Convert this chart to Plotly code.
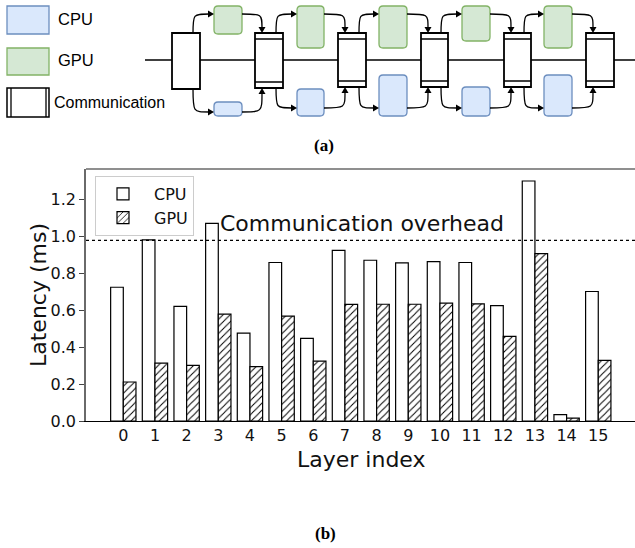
import plotly.graph_objects as go

# ---------------- data ----------------
layers = list(range(16))
tick_labels = [str(i) for i in layers]
cpu_latency = [0.724, 0.980, 0.620, 1.070, 0.476, 0.858, 0.447, 0.924,
               0.870, 0.856, 0.863, 0.858, 0.625, 1.299, 0.034, 0.701]
gpu_latency = [0.211, 0.313, 0.301, 0.578, 0.294, 0.568, 0.324, 0.631,
               0.632, 0.632, 0.638, 0.634, 0.458, 0.906, 0.016, 0.328]
comm_overhead = 0.978
ytick_vals = [0.0, 0.2, 0.4, 0.6, 0.8, 1.0, 1.2]
ytick_text = ["0.0", "0.2", "0.4", "0.6", "0.8", "1.0", "1.2"]

W, H = 635, 548

def px(x):
    return x / W

def py(y):
    return 1 - y / H

def pt(x, y):
    return f"{px(x):.5f},{py(y):.5f}"

def rect_path(x0, y0, x1, y1, r=0):
    if r == 0:
        return f"M{pt(x0,y0)} L{pt(x1,y0)} L{pt(x1,y1)} L{pt(x0,y1)} Z"
    return (f"M{pt(x0+r,y0)} L{pt(x1-r,y0)} Q{pt(x1,y0)} {pt(x1,y0+r)} "
            f"L{pt(x1,y1-r)} Q{pt(x1,y1)} {pt(x1-r,y1)} L{pt(x0+r,y1)} "
            f"Q{pt(x0,y1)} {pt(x0,y1-r)} L{pt(x0,y0+r)} Q{pt(x0,y0)} {pt(x0+r,y0)} Z")

shapes = []

def add_path(path, color="black", width=1.3, fill="rgba(0,0,0,0)"):
    shapes.append(dict(type="path", xref="paper", yref="paper", path=path,
                       line=dict(color=color, width=width), fillcolor=fill, layer="above"))

def add_line(x0, y0, x1, y1, color="black", width=1.5, dash="solid"):
    shapes.append(dict(type="line", xref="paper", yref="paper",
                       x0=px(x0), y0=py(y0), x1=px(x1), y1=py(y1),
                       line=dict(color=color, width=width, dash=dash), layer="above"))

def arrowhead(x, y, direction, L=6, hw=3.5):
    if direction == "right":
        p = f"M{pt(x,y)} L{pt(x-L,y-hw)} L{pt(x-L,y+hw)} Z"
    elif direction == "down":
        p = f"M{pt(x,y)} L{pt(x-hw,y-L)} L{pt(x+hw,y-L)} Z"
    else:  # up
        p = f"M{pt(x,y)} L{pt(x-hw,y+L)} L{pt(x+hw,y+L)} Z"
    shapes.append(dict(type="path", xref="paper", yref="paper", path=p,
                       line=dict(width=0), fillcolor="black", layer="above"))

BLUE_F, BLUE_L = "#dae8fc", "#6c8ebf"
GREEN_F, GREEN_L = "#d5e8d4", "#82b366"

# ---------------- diagram (a) ----------------
add_line(145, 60, 635, 60, width=1.5)

first_box = (172, 33, 200, 89)
comm_boxes = [(255, 33, 283, 88), (338, 33, 366, 87), (421, 33, 448, 87),
              (504, 33, 531, 87), (586, 33, 614, 87)]
green_boxes = [(214, 6, 242, 34), (297, 6, 324, 48), (379, 6, 407, 48),
               (462, 6, 490, 41), (544, 6, 572, 48)]
blue_boxes = [(214, 102, 242, 116), (297, 89, 324, 116), (379, 75, 407, 116),
              (462, 87, 490, 116), (544, 75, 572, 116)]

add_path(rect_path(*first_box), width=1.8, fill="white")
for (x0, y0, x1, y1) in comm_boxes:
    add_path(rect_path(x0, y0, x1, y1), width=1.8, fill="white")
    add_line(x0, y0 + 6, x1, y0 + 6, width=1.5)
    add_line(x0, y1 - 6, x1, y1 - 6, width=1.5)
for b in green_boxes:
    add_path(rect_path(*b, r=4), color=GREEN_L, width=1.3, fill=GREEN_F)
for b in blue_boxes:
    add_path(rect_path(*b, r=4), color=BLUE_L, width=1.3, fill=BLUE_F)

top_y = 14
for k in range(5):
    src = first_box if k == 0 else comm_boxes[k - 1]
    tgt = comm_boxes[k]
    g = green_boxes[k]
    b = blue_boxes[k]
    sx = src[2] - 7
    tx = tgt[0] + 7
    by = 112 if k == 0 else 108
    add_path(f"M{pt(sx,src[1])} C{pt(sx,top_y)} {pt(sx,top_y)} {pt(g[0]-5,top_y)}")
    arrowhead(g[0], top_y, "right")
    add_path(f"M{pt(g[2],top_y)} C{pt(tx,top_y)} {pt(tx,top_y)} {pt(tx,tgt[1]-5)}")
    arrowhead(tx, tgt[1], "down")
    add_path(f"M{pt(sx,src[3])} C{pt(sx,by)} {pt(sx,by)} {pt(b[0]-5,by)}")
    arrowhead(b[0], by, "right")
    add_path(f"M{pt(b[2],by)} C{pt(tx,by)} {pt(tx,by)} {pt(tx,tgt[3]+5)}")
    arrowhead(tx, tgt[3], "up")

# diagram legend
add_path(rect_path(7, 6, 49, 34), color=BLUE_L, width=1.3, fill=BLUE_F)
add_path(rect_path(7, 48, 49, 75), color=GREEN_L, width=1.3, fill=GREEN_F)
add_path(rect_path(7, 88, 49, 117), width=1.5, fill="white")
add_line(11, 88, 11, 117, width=1.3)
add_line(46, 88, 46, 117, width=1.3)

annotations = []

def add_text(x, y, text, size, family="Liberation Sans", anchor="left", color="black", angle=0, bold=False):
    annotations.append(dict(xref="paper", yref="paper", x=px(x), y=py(y), text=(f"<b>{text}</b>" if bold else text),
                            showarrow=False, xanchor=anchor, yanchor="middle", textangle=angle,
                            font=dict(family=family, size=size, color=color)))

add_text(56, 19, "CPU", 16.5)
add_text(56, 60, "GPU", 16.5)
add_text(52, 102, "Communication", 16)
add_text(324, 145, "(a)", 17, family="Liberation Serif", anchor="center", bold=True)
add_text(325, 533, "(b)", 17, family="Liberation Serif", anchor="center", bold=True)

# ---------------- bar chart (b) ----------------
add_line(86, 169, 635, 169, color="#6a6a6a", width=1.5)  # top spine
add_text(38, 295, "Latency (ms)", 22, family="DejaVu Sans", anchor="center", angle=-90, color="#111")
add_text(361, 459, "Layer index", 22, family="DejaVu Sans", anchor="center", color="#111")
add_text(218, 223, "Communication overhead", 22, family="DejaVu Sans", color="#111")

fig = go.Figure()
fig.add_trace(go.Bar(
    x=layers, y=cpu_latency, name="CPU", width=0.4, offset=-0.4,
    marker=dict(color="white", line=dict(color="black", width=1.2)),
))
fig.add_trace(go.Bar(
    x=layers, y=gpu_latency, name="GPU", width=0.4, offset=0.0,
    marker=dict(color="white", line=dict(color="black", width=1.2),
                pattern=dict(shape="/", fgcolor="black", bgcolor="white", size=5, solidity=0.2)),
))
fig.add_trace(go.Scatter(
    x=[-1.178, 16.16], y=[comm_overhead, comm_overhead], mode="lines",
    line=dict(color="black", width=1.2, dash="dot"), showlegend=False, hoverinfo="skip",
))

fig.update_layout(
    template="none",
    width=W, height=H,
    margin=dict(l=0, r=0, t=0, b=0, pad=0),
    paper_bgcolor="white", plot_bgcolor="rgba(0,0,0,0)",
    barmode="overlay",
    shapes=shapes,
    annotations=annotations,
    font=dict(family="DejaVu Sans", size=16, color="#111"),
    legend=dict(x=px(95), y=py(176), xanchor="left", yanchor="top",
                bgcolor="white", bordercolor="#cccccc", borderwidth=1,
                font=dict(family="DejaVu Sans", size=16, color="#111"),
                tracegroupgap=0, itemwidth=52, indentation=-4),
    xaxis=dict(domain=[px(86), 1.0], range=[-1.178, 16.16], automargin=False,
               tickmode="array", tickvals=layers, ticktext=tick_labels,
               ticks="", showgrid=False, zeroline=False,
               showline=True, linecolor="black", linewidth=1.3,
               tickfont=dict(family="DejaVu Sans", size=16, color="#111")),
    yaxis=dict(domain=[py(421), py(169)], range=[0, 1.364], automargin=False,
               tickmode="array", tickvals=ytick_vals, ticktext=ytick_text,
               ticks="outside", ticklen=5, tickcolor="#444", showgrid=False, zeroline=False,
               showline=True, linecolor="#6a6a6a", linewidth=1.5,
               tickfont=dict(family="DejaVu Sans", size=16, color="#111")),
)

fig.write_html("out.html")
